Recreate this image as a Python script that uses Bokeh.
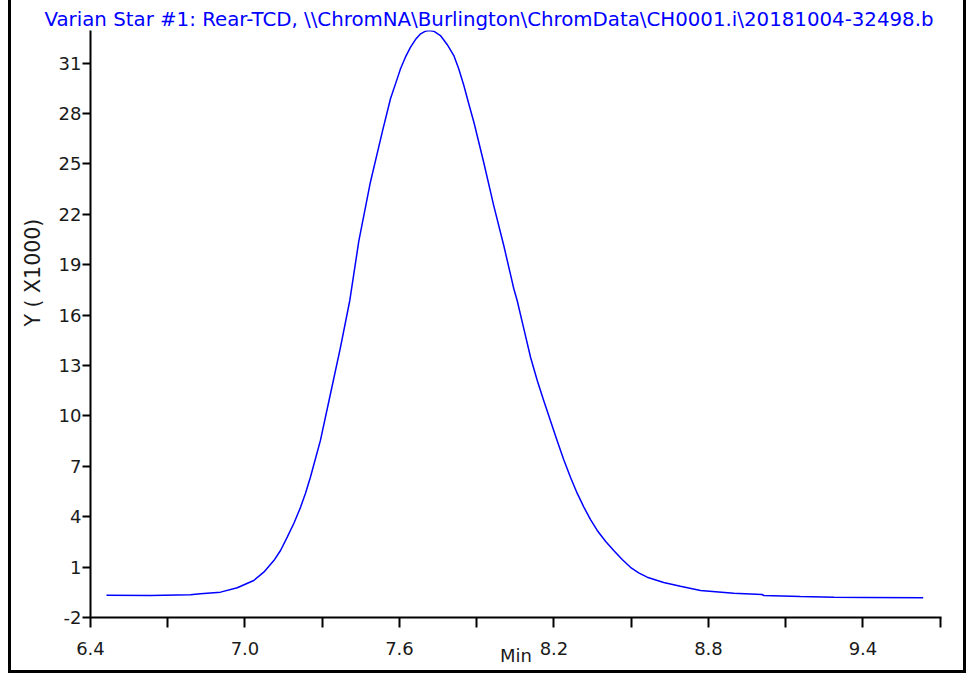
from bokeh.plotting import figure
from bokeh.models import FixedTicker, Range1d, NumeralTickFormatter, Title
from bokeh.embed import file_html
from bokeh.resources import INLINE

title_text = r"Varian Star #1: Rear-TCD, \\ChromNA\Burlington\ChromData\CH0001.i\20181004-32498.b"
x_label = "Min"
y_label = "Y ( X1000)"

x_major_ticks = [6.4, 7.0, 7.6, 8.2, 8.8, 9.4]
x_minor_ticks = [6.7, 7.3, 7.9, 8.5, 9.1, 9.7]
y_ticks = [-2, 1, 4, 7, 10, 13, 16, 19, 22, 25, 28, 31]

time_min = [6.462, 6.633, 6.788, 6.827, 6.905, 6.970, 7.034, 7.073, 7.112, 7.138,
            7.164, 7.190, 7.216, 7.235, 7.254, 7.293, 7.332, 7.371, 7.407, 7.442,
            7.487, 7.533, 7.565, 7.591, 7.604, 7.623, 7.643, 7.662, 7.682, 7.701,
            7.714, 7.733, 7.759, 7.785, 7.811, 7.830, 7.850, 7.869, 7.889, 7.927,
            7.966, 8.005, 8.044, 8.057, 8.083, 8.109, 8.135, 8.160, 8.186, 8.212,
            8.238, 8.264, 8.290, 8.316, 8.342, 8.368, 8.400, 8.432, 8.465, 8.497,
            8.529, 8.562, 8.626, 8.691, 8.769, 8.898, 9.008, 9.015, 9.157, 9.287,
            9.416, 9.634]
signal_k = [-0.67, -0.69, -0.65, -0.59, -0.49, -0.23, 0.20, 0.70, 1.39, 1.99,
            2.78, 3.61, 4.57, 5.40, 6.35, 8.54, 11.32, 14.09, 16.87, 20.40,
            23.91, 26.89, 28.88, 30.06, 30.66, 31.35, 31.95, 32.40, 32.74, 32.90,
            32.94, 32.90, 32.64, 32.11, 31.45, 30.66, 29.67, 28.58, 27.48, 25.10,
            22.52, 20.14, 17.57, 16.87, 15.18, 13.49, 12.11, 10.92, 9.73, 8.54,
            7.39, 6.35, 5.40, 4.57, 3.83, 3.18, 2.54, 1.99, 1.45, 0.99,
            0.66, 0.40, 0.08, -0.14, -0.39, -0.55, -0.63, -0.69, -0.75, -0.79,
            -0.81, -0.83]

FONT = "DejaVu Sans"
BLUE = "#0000ff"
INK = "#1a1a1a"

p = figure(width=952, height=670,
           x_range=Range1d(6.4, 9.705), y_range=Range1d(-2, 32.94),
           output_backend="svg", toolbar_location=None,
           min_border_left=79, min_border_right=28,
           min_border_top=30, min_border_bottom=56)
p.styles = {"box-sizing": "content-box",
            "margin-left": "8px",
            "border-left": "3px solid black",
            "border-right": "3px solid black",
            "border-bottom": "3px solid black"}
p.outline_line_color = None
p.xgrid.visible = False
p.ygrid.visible = False
p.background_fill_color = "white"
p.border_fill_color = "white"

# main title (left-aligned with an offset so it sits centred on the whole image)
p.title.text = title_text
p.title.align = "left"
p.title.offset = -46
p.title.standoff = 0
p.title.vertical_align = "bottom"
p.title.text_font = FONT
p.title.text_font_size = "19.8px"
p.title.text_font_style = "normal"
p.title.text_color = BLUE

p.line(time_min, signal_k, line_color=BLUE, line_width=1.5)

xa = p.xaxis[0]
xa.ticker = FixedTicker(ticks=x_major_ticks, minor_ticks=x_minor_ticks)
xa.formatter = NumeralTickFormatter(format="0.0")
xa.axis_line_width = 2
xa.major_tick_line_width = 2
xa.minor_tick_line_width = 2
xa.major_tick_in = 0
xa.major_tick_out = 10
xa.minor_tick_in = 0
xa.minor_tick_out = 10
xa.major_label_standoff = 14
xa.major_label_text_font = FONT
xa.major_label_text_font_size = "18px"
xa.major_label_text_color = INK
xa.axis_label = x_label
xa.axis_label_standoff = -13
xa.axis_label_text_font = FONT
xa.axis_label_text_font_size = "18px"
xa.axis_label_text_font_style = "normal"
xa.axis_label_text_color = INK

ya = p.yaxis[0]
ya.ticker = FixedTicker(ticks=y_ticks, minor_ticks=[])
ya.formatter = NumeralTickFormatter(format="0")
ya.axis_line_width = 2
ya.major_tick_line_width = 2
ya.major_tick_in = 0
ya.major_tick_out = 8
ya.minor_tick_out = 0
ya.minor_tick_in = 0
ya.major_label_standoff = 1
ya.major_label_text_font = FONT
ya.major_label_text_font_size = "18px"
ya.major_label_text_color = INK

# y-axis title, placed in the left side panel beside the axis
p.add_layout(Title(text=y_label, align="left", offset=291, standoff=17,
                   vertical_align="top", text_font=FONT, text_font_size="20.5px",
                   text_font_style="normal", text_color=INK), "left")

open("out.html", "w").write(file_html(p, INLINE))
